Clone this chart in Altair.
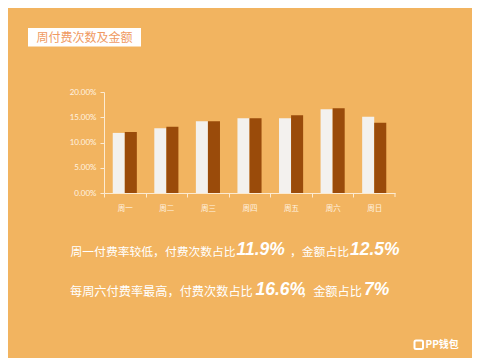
import altair as alt
import pandas as pd

days = ["周一", "周二", "周三", "周四", "周五", "周六", "周日"]
count_share = [11.9, 12.8, 14.2, 14.8, 14.8, 16.6, 15.1]
amount_share = [12.1, 13.1, 14.2, 14.8, 15.4, 16.8, 13.9]
series = ["付费次数", "金额"]
y_ticks = [0, 0.05, 0.10, 0.15, 0.20]

rows = []
for d, c, a in zip(days, count_share, amount_share):
    rows.append({"day": d, "series": series[0], "value": c / 100})
    rows.append({"day": d, "series": series[1], "value": a / 100})
df = pd.DataFrame(rows)

BG = "#F2B460"
CJK = "Noto Sans CJK SC"
W, H = 291, 101
OX, OY = 104, 92  # page position of the plot origin
HALF = W / 7 / 2

bars = alt.Chart(df).mark_bar().encode(
    x=alt.X("day:N", sort=days, title=None,
            scale=alt.Scale(paddingInner=0.42, paddingOuter=0.21),
            axis=alt.Axis(labelAngle=0, labelFont=CJK, labelFontSize=7.5,
                          labelColor="#FFF3E0", domainColor="#FCEBD2",
                          tickColor="#FCEBD2", tickSize=4, labelPadding=7,
                          tickOffset=-HALF, labelOffset=HALF, grid=False)),
    xOffset=alt.XOffset("series:N", sort=series, scale=alt.Scale(paddingInner=0, paddingOuter=0)),
    y=alt.Y("value:Q", title=None,
            scale=alt.Scale(domain=[0, 0.2], nice=False),
            axis=alt.Axis(values=y_ticks, format=".2%", labelFont="Lato",
                          labelFontSize=8, labelColor="#FFF3E0",
                          domainColor="#FCEBD2", tickColor="#FCEBD2",
                          tickSize=4, labelPadding=4, grid=False)),
    color=alt.Color("series:N", sort=series, legend=None,
                    scale=alt.Scale(domain=series, range=["#F3F1EE", "#9A4B0A"])),
)

def one():
    return alt.Chart(alt.Data(values=[{"a": 1}]))

def txt(s, px, py, size, color="#FFFFFF", font=CJK, weight="normal", style="normal", align="left"):
    return one().mark_text(text=s, font=font, fontSize=size, fontWeight=weight,
                           fontStyle=style, color=color, align=align,
                           baseline="middle").encode(
        x=alt.value(px - OX), y=alt.value(py - OY))

end_tick = one().mark_rule(color="#FCEBD2").encode(
    x=alt.value(W), y=alt.value(H), y2=alt.value(H + 4))

title_box = one().mark_rect(color="#FFFFFF").encode(
    x=alt.value(28 - OX), x2=alt.value(141 - OX),
    y=alt.value(28 - OY), y2=alt.value(46.5 - OY))
title_txt = txt("周付费次数及金额", 84.5, 37.5, 12, color="#F09A62", align="center")

NUM = "Liberation Sans"
NS = 17.5
line1 = [
    txt("周一付费率较低，付费次数占比", 70.5, 252, 11.8),
    txt("11.9%", 236.5, 249.5, NS, font=NUM, weight="bold", style="italic"),
    txt("，金额占比", 290, 252, 11.8),
    txt("12.5%", 350, 249.5, NS, font=NUM, weight="bold", style="italic"),
]
line2 = [
    txt("每周六付费率最高，付费次数占比", 70, 292, 12.2),
    txt("16.6%", 255.5, 289.5, NS, font=NUM, weight="bold", style="italic"),
    txt("，金额占比", 301, 292, 12.2),
    txt("7%", 364, 289.5, NS, font=NUM, weight="bold", style="italic"),
]

logo_box = one().mark_rect(filled=False, stroke="#FFFFFF", strokeWidth=2, cornerRadius=1.5).encode(
    x=alt.value(414.5 - OX), x2=alt.value(423 - OX),
    y=alt.value(340.5 - OY), y2=alt.value(349 - OY))
logo_txt = txt("PP钱包", 425.5, 345, 10, weight="bold")

chart = alt.layer(
    bars, end_tick, title_box, title_txt, *line1, *line2, logo_box, logo_txt
).properties(
    width=W, height=H,
    padding={"left": OX - 8, "top": OY - 8, "right": 480 - 16 - (OX - 8) - W,
             "bottom": 350 - (OY - 8) - H},
    autosize=alt.AutoSizeParams(type="none"),
    background=BG,
).configure_view(stroke=None)

chart.save("out.html", embed_options={"renderer": "svg", "actions": False})
